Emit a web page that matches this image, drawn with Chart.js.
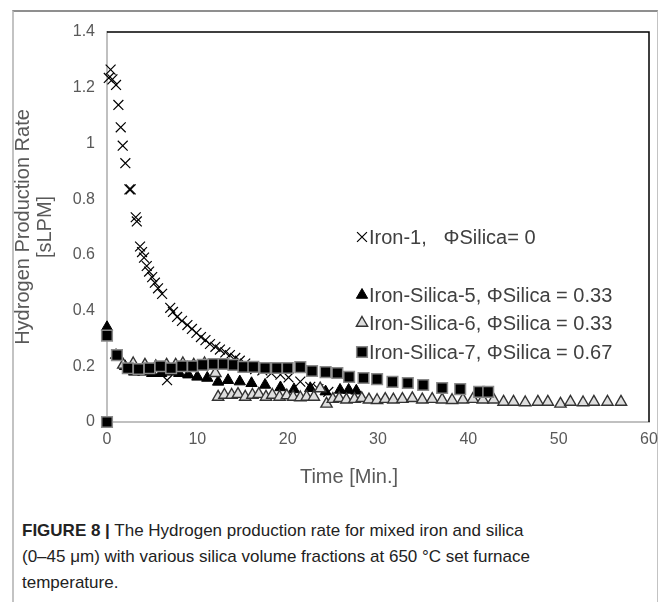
<!DOCTYPE html>
<html>
<head>
<meta charset="utf-8">
<script src="https://cdn.jsdelivr.net/npm/chart.js@4.4.0/dist/chart.umd.min.js"></script>
<style>
  html, body { margin: 0; padding: 0; background: #fff; }
  body { width: 668px; height: 602px; position: relative; overflow: hidden; font-family: "Liberation Sans", Arial, sans-serif; }
  #frame { position: absolute; left: 12px; top: 10px; width: 643px; height: 600px; border-top: 2px solid #8f8f8f; border-left: 2px solid #c3c3c3; border-right: 1px solid #c3c3c3; }
  #wrap { position: absolute; left: 0; top: 0; width: 668px; height: 500px; }
  #xtitle { position: absolute; left: 0; width: 698px; top: 465px; text-align: center; font-size: 20px; color: #595959; }
  #caption { position: absolute; left: 22px; top: 518px; width: 640px; font-size: 17px; line-height: 26px; color: #222; }
  #caption b { font-weight: bold; }
</style>
</head>
<body>
<div id="frame"></div>
<div id="wrap"><canvas id="chart"></canvas></div>
<div id="xtitle">Time [Min.]</div>
<div id="caption"><b>FIGURE 8 |</b> The Hydrogen production rate for mixed iron and silica<br>(0–45 μm) with various silica volume fractions at 650 °C set furnace<br>temperature.</div>

<script>
/* ---- data ---- */
const seriesLabels = ['Iron-1,   ΦSilica= 0', 'Iron-Silica-5, ΦSilica = 0.33', 'Iron-Silica-6, ΦSilica = 0.33', 'Iron-Silica-7, ΦSilica = 0.67'];

const iron1X = [0.2, 0.4, 0.6, 1.0, 1.26, 1.52, 1.74, 2.03, 2.48, 2.62, 3.18, 3.3, 3.66, 3.88, 4.1, 4.4, 4.66, 5.0, 5.3, 5.65, 6.1, 6.65, 7.0, 7.3, 7.76, 8.3, 8.9, 9.4, 9.9, 10.4, 10.9, 11.4, 12.0, 12.5, 13.1, 13.6, 14.2, 14.7, 15.3, 15.85, 16.4, 17.2, 18.2, 19.2, 20.1, 21.4, 22.5, 23.4, 24.5];
const iron1Y = [1.235, 1.265, 1.23, 1.21, 1.138, 1.058, 0.992, 0.929, 0.835, 0.835, 0.735, 0.72, 0.63, 0.61, 0.59, 0.56, 0.54, 0.52, 0.50, 0.48, 0.46, 0.15, 0.41, 0.395, 0.377, 0.363, 0.348, 0.334, 0.32, 0.305, 0.294, 0.28, 0.27, 0.26, 0.25, 0.24, 0.23, 0.22, 0.21, 0.20, 0.19, 0.185, 0.175, 0.17, 0.16, 0.145, 0.126, 0.118, 0.108];

const silica5X = [0, 1.0, 2.0, 3.0, 4.0, 5.0, 6.0, 7.0, 8.0, 9.0, 10.0, 11.1, 12.3, 13.4, 14.7, 16.0, 17.5, 19.2, 20.7, 22.5, 24.2, 25.8, 26.75, 27.6];
const silica5Y = [0.34, 0.24, 0.20, 0.18, 0.18, 0.175, 0.175, 0.18, 0.175, 0.17, 0.162, 0.158, 0.144, 0.15, 0.145, 0.139, 0.133, 0.124, 0.117, 0.121, 0.109, 0.115, 0.115, 0.112];

const silica6X = [1.8, 2.9, 4.2, 5.4, 6.6, 7.6, 8.4, 9.6, 10.8, 12.0, 12.3, 13.0, 13.8, 14.5, 15.3, 16.1, 16.8, 17.6, 18.3, 19.1, 19.9, 20.6, 21.4, 22.1, 22.9, 23.6, 24.3, 25.0, 25.7, 26.5, 27.4, 28.2, 29.0, 29.9, 30.8, 31.7, 32.7, 33.8, 34.9, 36.0, 37.1, 38.2, 39.4, 40.5, 41.6, 42.8, 43.9, 45.0, 46.3, 47.7, 48.8, 50.2, 51.3, 52.7, 53.9, 55.4, 56.9];
const silica6Y = [0.205, 0.21, 0.205, 0.2, 0.205, 0.205, 0.21, 0.205, 0.21, 0.175, 0.09, 0.097, 0.097, 0.1, 0.09, 0.097, 0.1, 0.09, 0.097, 0.09, 0.095, 0.09, 0.088, 0.09, 0.09, 0.12, 0.065, 0.082, 0.085, 0.08, 0.082, 0.085, 0.08, 0.078, 0.082, 0.08, 0.082, 0.085, 0.08, 0.082, 0.08, 0.078, 0.08, 0.082, 0.08, 0.08, 0.072, 0.072, 0.07, 0.072, 0.072, 0.065, 0.072, 0.07, 0.072, 0.072, 0.072];

const silica7X = [0, 0, 1.1, 2.3, 3.5, 4.7, 5.9, 7.1, 8.3, 9.5, 10.6, 11.8, 12.9, 14.0, 15.1, 16.2, 17.5, 18.8, 20.0, 21.4, 22.7, 24.2, 25.5, 26.8, 28.4, 29.9, 31.6, 33.3, 35.0, 37.1, 39.1, 41.2, 42.2];
const silica7Y = [0, 0.31, 0.24, 0.193, 0.19, 0.193, 0.2, 0.193, 0.2, 0.2, 0.205, 0.208, 0.208, 0.205, 0.198, 0.198, 0.194, 0.194, 0.194, 0.197, 0.183, 0.179, 0.176, 0.162, 0.158, 0.154, 0.144, 0.14, 0.133, 0.122, 0.118, 0.108, 0.108];

const xTickLabels = ['0', '10', '20', '30', '40', '50', '60'];
const yTickLabels = ['0', '0.2', '0.4', '0.6', '0.8', '1', '1.2', '1.4'];

const FONT = '"Liberation Sans", Arial, sans-serif';

function pts(xs, ys) { return xs.map((x, i) => ({ x: x, y: ys[i] })); }

/* legend drawn inside the plot, rows spaced like the original */
const legendRows = [237, 295, 323, 352];
const insideLegend = {
  id: 'insideLegend',
  afterDatasetsDraw(chart) {
    const ctx = chart.ctx;
    ctx.save();
    chart.data.datasets.forEach((ds, i) => {
      const y = legendRows[i];
      ctx.fillStyle = ds.pointBackgroundColor;
      ctx.strokeStyle = ds.pointBorderColor;
      ctx.lineWidth = ds.pointBorderWidth;
      Chart.helpers.drawPoint(ctx, { pointStyle: ds.pointStyle, radius: ds.pointRadius, borderWidth: ds.pointBorderWidth, rotation: 0 }, 362, y);
      ctx.fillStyle = '#404040';
      ctx.font = '20px ' + FONT;
      ctx.textBaseline = 'middle';
      ctx.textAlign = 'left';
      ctx.fillText(ds.label, 369, y + 1);
    });
    ctx.restore();
  }
};

/* black top and right edges of the plot box */
const plotBox = {
  id: 'plotBox',
  beforeDatasetsDraw(chart) {
    const { ctx, chartArea: a } = chart;
    ctx.save();
    ctx.strokeStyle = '#000';
    ctx.lineWidth = 1.5;
    ctx.beginPath();
    ctx.moveTo(a.left, a.top);
    ctx.lineTo(a.right, a.top);
    ctx.lineTo(a.right, a.bottom);
    ctx.stroke();
    ctx.restore();
  }
};

new Chart(document.getElementById('chart'), {
  type: 'scatter',
  data: {
    datasets: [
      { label: seriesLabels[0], data: pts(iron1X, iron1Y), order: 4, clip: false,
        pointStyle: 'crossRot', pointRadius: 7, pointBorderWidth: 1.2,
        pointBackgroundColor: '#000', pointBorderColor: '#000' },
      { label: seriesLabels[1], data: pts(silica5X, silica5Y), order: 3, clip: false,
        pointStyle: 'triangle', pointRadius: 6.5, pointBorderWidth: 1,
        pointBackgroundColor: '#000', pointBorderColor: '#000' },
      { label: seriesLabels[2], data: pts(silica6X, silica6Y), order: 2, clip: false,
        pointStyle: 'triangle', pointRadius: 6.5, pointBorderWidth: 1.4,
        pointBackgroundColor: '#dedede', pointBorderColor: '#333' },
      { label: seriesLabels[3], data: pts(silica7X, silica7Y), order: 1, clip: false,
        pointStyle: 'rect', pointRadius: 7.5, pointBorderWidth: 1.5,
        pointBackgroundColor: '#000', pointBorderColor: '#8a8a8a' }
    ]
  },
  options: {
    responsive: true,
    maintainAspectRatio: false,
    animation: false,
    layout: { padding: { left: 0, top: 32, right: 19, bottom: 0 } },
    plugins: { legend: { display: false }, tooltip: { enabled: false } },
    scales: {
      x: {
        type: 'linear', min: 0, max: 60,
        afterFit: s => { s.height = 78; },
        grid: { display: false, drawTicks: false },
        border: { display: true, color: '#c0c0c0', width: 2 },
        ticks: { stepSize: 10, padding: 8, color: '#595959', font: { size: 16, family: FONT },
                 callback: (v, i) => xTickLabels[i] }
      },
      y: {
        type: 'linear', min: 0, max: 1.4,
        afterFit: s => { s.width = 107; },
        grid: { display: false, drawTicks: false },
        border: { display: true, color: '#c0c0c0', width: 2 },
        ticks: { stepSize: 0.2, padding: 12, color: '#595959', font: { size: 16, family: FONT },
                 callback: (v, i) => yTickLabels[i] },
        title: { display: true, text: ['Hydrogen Production Rate', '[sLPM]'], color: '#595959',
                 font: { size: 20, family: FONT, lineHeight: 1.1 }, padding: { top: 12, bottom: 0 } }
      }
    }
  },
  plugins: [plotBox, insideLegend]
});
</script>
</body>
</html>
